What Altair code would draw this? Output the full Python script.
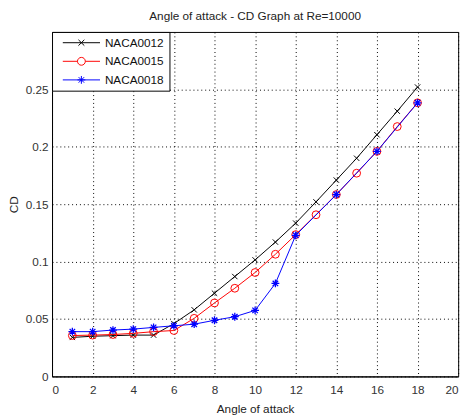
import altair as alt
import pandas as pd

# ---- data ----
series_names = ["NACA0012", "NACA0015", "NACA0018"]
series_colors = ["#000000", "#ff0000", "#0000ff"]

angle_0012 = [1, 2, 3, 4, 5, 6, 7, 8, 9, 10, 11, 12, 13, 14, 15, 16, 17, 18]
cd_0012 = [0.034, 0.035, 0.0355, 0.036, 0.036, 0.046, 0.058, 0.0725, 0.087, 0.1015,
           0.117, 0.1335, 0.152, 0.171, 0.190, 0.2105, 0.231, 0.252]

angle_0015 = [1, 2, 3, 4, 5, 6, 7, 8, 9, 10, 11, 12, 13, 14, 15, 16, 17, 18]
cd_0015 = [0.0356, 0.036, 0.0365, 0.0375, 0.039, 0.040, 0.0506, 0.064, 0.0768, 0.0905,
           0.1064, 0.1235, 0.1408, 0.1584, 0.177, 0.196, 0.2176, 0.2383]

angle_0018 = [1, 2, 3, 4, 5, 6, 7, 8, 9, 10, 11, 12, 14, 16, 18]
cd_0018 = [0.039, 0.039, 0.0404, 0.0412, 0.0427, 0.0441, 0.0455, 0.0489, 0.052, 0.0575,
           0.081, 0.1229, 0.1584, 0.196, 0.2383]

x_ticks = [0, 2, 4, 6, 8, 10, 12, 14, 16, 18, 20]
y_ticks = [0, 0.05, 0.1, 0.15, 0.2, 0.25]

title_text = "Angle of attack - CD Graph at Re=10000"
x_title = "Angle of attack"
y_title = "CD"

# ---- marker shapes (styles) ----
marker_x = "M-1,-1L1,1M-1,1L1,-1"
marker_star = "M-1,0L1,0M0,-1L0,1M-0.7,-0.7L0.7,0.7M-0.7,0.7L0.7,-0.7"
marker_shapes = [marker_x, "circle", marker_star]
marker_sizes = [30, 64, 64]
marker_widths = [1, 1, 1.3]

# legend symbols: line with marker in the middle (units = 3px)
leg_x = "M-1,0L11.67,0M4.33,-1L6.33,1M4.33,1L6.33,-1"
leg_o = ("M-1,0L4,0M6.67,0L11.67,0"
         "M4,0A1.333,1.333 0 1,0 6.67,0A1.333,1.333 0 1,0 4,0")
leg_star = ("M-1,0L11.67,0M4,0L6.67,0M5.33,-1.333L5.33,1.333"
            "M4.39,-0.94L6.27,0.94M4.39,0.94L6.27,-0.94")
legend_shapes = [leg_x, leg_o, leg_star]

frames = []
for name, a, c in [(series_names[0], angle_0012, cd_0012),
                   (series_names[1], angle_0015, cd_0015),
                   (series_names[2], angle_0018, cd_0018)]:
    frames.append(pd.DataFrame({"series": name, "angle": a, "cd": c}))
df = pd.concat(frames, ignore_index=True)

font = "Liberation Sans"

x_enc = alt.X("angle:Q", scale=alt.Scale(domain=[0, 20], nice=False),
              axis=alt.Axis(values=x_ticks, title=x_title, format="d"))
y_enc = alt.Y("cd:Q", scale=alt.Scale(domain=[0, 0.3], nice=False),
              axis=alt.Axis(values=y_ticks, title=y_title, format=".2~f"))

base = alt.Chart(df).encode(x=x_enc, y=y_enc)

layers = []
for i, name in enumerate(series_names):
    sub = base.transform_filter(alt.datum.series == name)
    layers.append(sub.mark_line(color=series_colors[i], strokeWidth=1))
    layers.append(sub.mark_point(shape=marker_shapes[i], size=marker_sizes[i],
                                 filled=False, stroke=series_colors[i],
                                 strokeWidth=marker_widths[i], opacity=1))

legend_layer = base.mark_point(filled=False, opacity=0).encode(
    color=alt.Color("series:N",
                    scale=alt.Scale(domain=series_names, range=series_colors),
                    legend=alt.Legend(title=None, orient="top-left", offset=0,
                                      padding=5, rowPadding=6, symbolOffset=3,
                                      labelOffset=34, symbolSize=36,
                                      symbolStrokeWidth=1, symbolOpacity=1,
                                      strokeColor="black", fillColor="white",
                                      labelFont=font, labelFontSize=12,
                                      labelColor="#111")),
    shape=alt.Shape("series:N",
                    scale=alt.Scale(domain=series_names, range=legend_shapes)),
)

chart = alt.layer(*layers, legend_layer).properties(
    width=415, height=352,
    padding={"left": 45, "top": 20, "right": 8, "bottom": 38},
    autosize=alt.AutoSizeParams(type="none"),
    title=alt.TitleParams(title_text, font=font, fontSize=12, fontWeight="normal",
                          color="#222", offset=9),
).configure_view(stroke="black", strokeWidth=1).configure_axis(
    labelFont=font, labelFontSize=12, labelColor="#333",
    titleFont=font, titleFontSize=12, titleFontWeight="normal", titleColor="#222",
    domainColor="black", domainWidth=1,
    gridColor="black", gridDash=[1, 3], gridOpacity=1, gridWidth=1,
    ticks=False,
).configure_axisY(titlePadding=5, labelPadding=4).configure_axisX(
    titlePadding=9, labelPadding=8)

chart.save("out.html", embed_options={"renderer": "svg", "actions": False})
